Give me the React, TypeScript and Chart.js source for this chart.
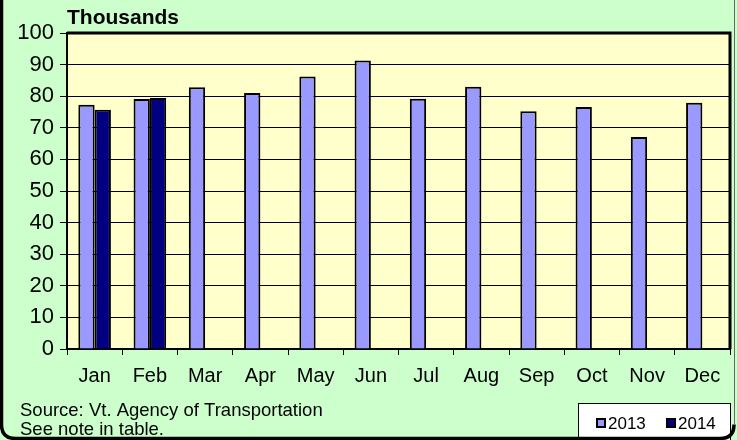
import React, { useEffect, useRef } from "react";
import { Chart, registerables } from "chart.js";
Chart.register(...registerables);

const categories = ["Jan", "Feb", "Mar", "Apr", "May", "Jun", "Jul", "Aug", "Sep", "Oct", "Nov", "Dec"];
const series2013 = [77.3, 79.1, 82.8, 81.0, 86.2, 91.3, 79.2, 83.0, 75.2, 76.6, 67.1, 77.9];
const series2014 = [75.7, 79.4, null, null, null, null, null, null, null, null, null, null];
const seriesLabels = ["2013", "2014"];
const yMin = 0;
const yMax = 100;
const yStep = 10;
const titleText = "Thousands";
const sourceLines = ["Source: Vt. Agency of Transportation", "See note in table."];

const FONT = "'Liberation Sans', Arial, sans-serif";
const C2013 = "#9999FF";
const C2014 = "#000080";

const decorPlugin = {
  id: "decor",
  beforeDraw(chart: any) {
    const { ctx, chartArea: a, width, height } = chart;
    ctx.save();
    ctx.fillStyle = "#CCFFCC";
    ctx.fillRect(0, 0, width, height);
    ctx.fillStyle = "#FFFFCC";
    ctx.fillRect(a.left, a.top, a.right - a.left, a.bottom - a.top);
    ctx.restore();
  },
  afterDraw(chart: any) {
    const { ctx, chartArea: a, width, height } = chart;
    ctx.save();
    ctx.strokeStyle = "#000";
    ctx.lineWidth = 3;
    ctx.beginPath();
    ctx.moveTo(a.left, a.top);
    ctx.lineTo(a.right, a.top);
    ctx.lineTo(a.right, a.bottom);
    ctx.stroke();
    ctx.fillStyle = "#000";
    ctx.font = `bold 21px ${FONT}`;
    ctx.textBaseline = "middle";
    ctx.textAlign = "left";
    ctx.fillText(titleText, 67, 18);
    ctx.font = `18.5px ${FONT}`;
    ctx.fillText(sourceLines[0], 20, 411);
    ctx.fillText(sourceLines[1], 20, 430);
    const lx = 578, ly = 403, lw = 152, lh = 45;
    ctx.fillStyle = "#FFFFFF";
    ctx.fillRect(lx, ly, lw, lh);
    ctx.strokeStyle = "#000";
    ctx.lineWidth = 1;
    ctx.strokeRect(lx + 0.5, ly + 0.5, lw, lh);
    const items = chart.data.datasets.map((d: any) => ({ label: d.label, color: d.backgroundColor }));
    const xs = [597, 667];
    ctx.font = `17px ${FONT}`;
    items.forEach((it: any, i: number) => {
      const x = xs[i];
      ctx.fillStyle = it.color;
      ctx.fillRect(x, 419, 8, 8);
      ctx.lineWidth = 2;
      ctx.strokeStyle = "#000";
      ctx.strokeRect(x, 419, 8, 8);
      ctx.fillStyle = "#000";
      ctx.fillText(it.label, x + 11, 424);
    });
    ctx.strokeStyle = "#000";
    ctx.lineWidth = 3.5;
    const r = 14;
    const L = 1.5, B = height - 1.5, R = width - 3;
    ctx.beginPath();
    ctx.moveTo(L, -10);
    ctx.lineTo(L, B - r);
    ctx.quadraticCurveTo(L, B, L + r, B);
    ctx.lineTo(R - r, B);
    ctx.quadraticCurveTo(R, B, R, B - r);
    ctx.stroke();
    ctx.strokeStyle = "#666";
    ctx.lineWidth = 1;
    ctx.beginPath();
    ctx.moveTo(R + 0.5, -10);
    ctx.lineTo(R + 0.5, B - r);
    ctx.stroke();
    ctx.restore();
  },
};

export default function App() {
  const ref = useRef<HTMLCanvasElement | null>(null);
  useEffect(() => {
    document.body.style.margin = "0";
    const chart = new Chart(ref.current as HTMLCanvasElement, {
      type: "bar",
      data: {
        labels: categories,
        datasets: [
          { label: seriesLabels[0], data: series2013, backgroundColor: C2013, borderColor: "#000", borderWidth: 2, categoryPercentage: 0.59, barPercentage: 1 },
          { label: seriesLabels[1], data: series2014, backgroundColor: C2014, borderColor: "#000", borderWidth: 2, categoryPercentage: 0.59, barPercentage: 1 },
        ],
      },
      options: {
        animation: false,
        responsive: false,
        maintainAspectRatio: false,
        layout: { padding: { left: 0, top: 33, right: 7, bottom: 0 } },
        plugins: { legend: { display: false }, tooltip: { enabled: false }, title: { display: false } },
        scales: {
          x: {
            grid: { offset: true, drawOnChartArea: false, color: "#000", tickLength: 6, lineWidth: 1 },
            border: { color: "#000", width: 2 },
            ticks: { color: "#000", font: { family: FONT, size: 20 }, padding: 9, maxRotation: 0 },
            afterFit: (s: any) => { s.height = 91; },
          },
          y: {
            min: yMin,
            max: yMax,
            grid: { color: "#000", tickLength: 7, lineWidth: 1 },
            border: { color: "#000", width: 2 },
            ticks: { stepSize: yStep, color: "#000", font: { family: FONT, size: 22 }, padding: 6 },
            afterFit: (s: any) => { s.width = 67; },
          },
        },
      },
      plugins: [decorPlugin],
    });
    return () => chart.destroy();
  }, []);
  return (
    <div style={{ position: "fixed", left: 0, top: 0, width: 737, height: 440 }}>
      <canvas ref={ref} width={737} height={440} style={{ width: 737, height: 440, display: "block" }} />
    </div>
  );
}
